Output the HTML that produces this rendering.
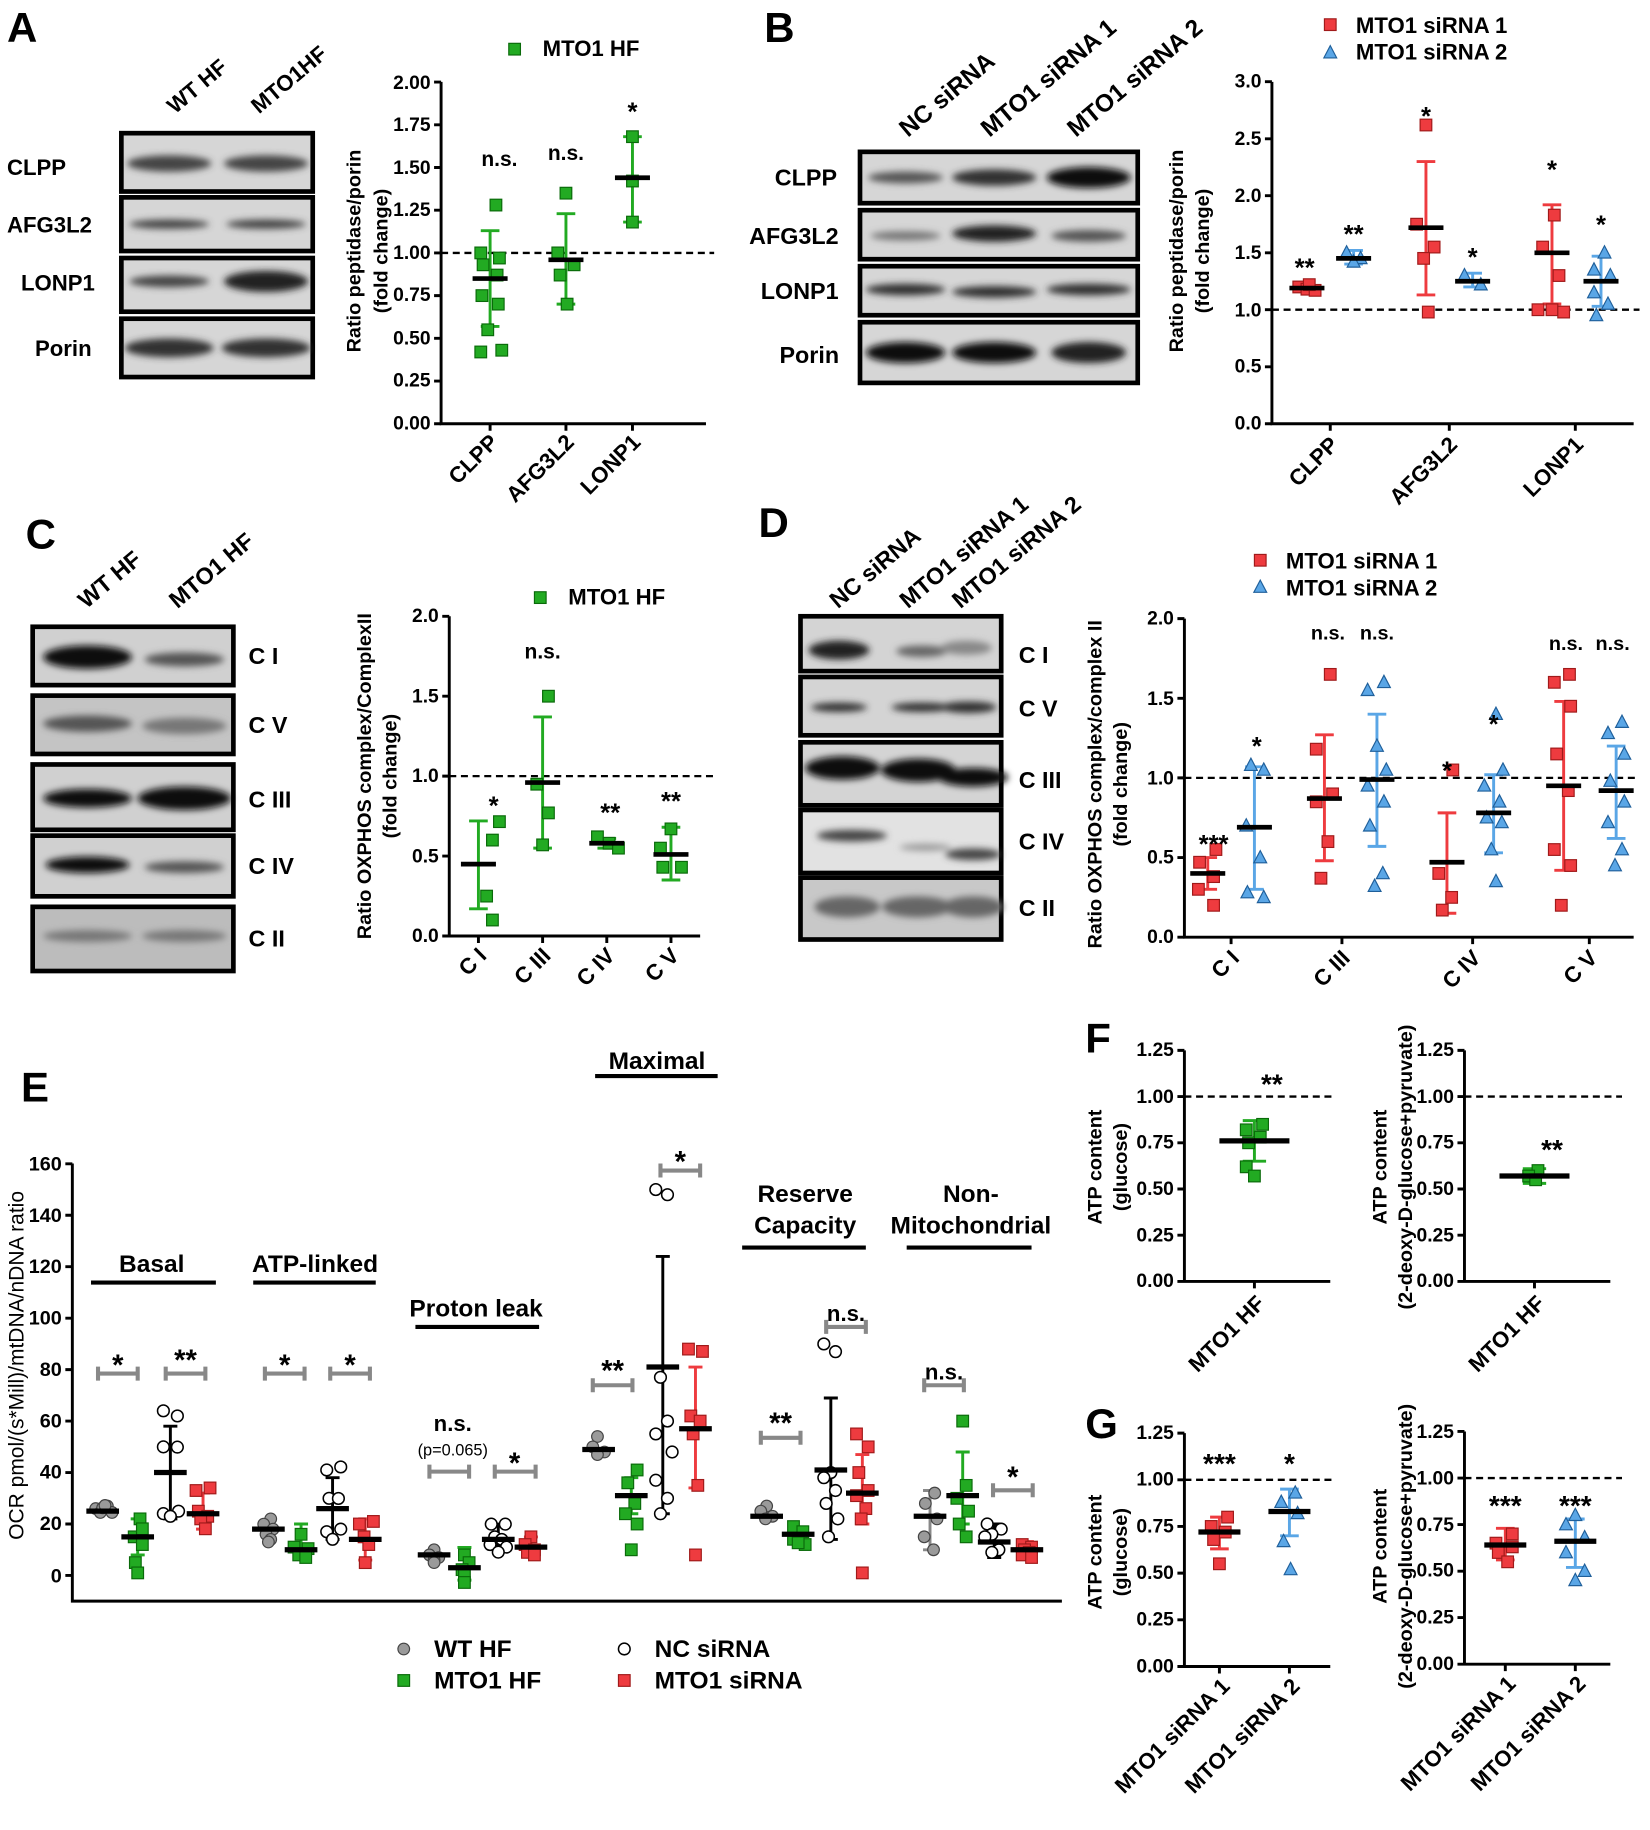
<!DOCTYPE html>
<html><head><meta charset="utf-8"><style>
html,body{margin:0;padding:0;background:#fff;}
svg{display:block;}
text{font-family:"Liberation Sans",Arial,sans-serif;font-weight:bold;fill:#000;}
</style></head><body>
<svg width="1650" height="1830" viewBox="0 0 1414 1568" xmlns="http://www.w3.org/2000/svg">
<defs>
<filter id="bl" x="-50%" y="-100%" width="200%" height="300%"><feGaussianBlur stdDeviation="3"/></filter>
<rect id="gs" x="-5" y="-5" width="10" height="10" fill="#22aa22" stroke="#0a6a0a" stroke-width="1"/>
<rect id="rs" x="-5" y="-5" width="10" height="10" fill="#ee3b3f" stroke="#a01a1a" stroke-width="1"/>
<path id="bt" d="M0,-6 L5.5,4.5 L-5.5,4.5Z" fill="#5aa6e6" stroke="#1f5f9a" stroke-width="1"/>
<circle id="gc" r="5" fill="#9a9a9a" stroke="#444" stroke-width="1"/>
<circle id="oc" r="5" fill="#fff" stroke="#000" stroke-width="1.3"/>
</defs>

<!-- ============ PANEL A ============ -->
<text x="6" y="36" font-size="36">A</text>
<text transform="translate(150,98) rotate(-40)" font-size="19">WT HF</text>
<text transform="translate(222,98) rotate(-40)" font-size="19">MTO1HF</text>
<g stroke="#000" stroke-width="4" fill="#d6d6d6">
<rect x="104" y="114" width="164" height="50"/><rect x="104" y="169" width="164" height="46"/>
<rect x="104" y="221" width="164" height="46"/><rect x="104" y="273" width="164" height="50"/>
</g>
<g filter="url(#bl)" fill="#444">
<ellipse cx="145" cy="140" rx="36" ry="7"/><ellipse cx="228" cy="140" rx="36" ry="7"/>
<ellipse cx="145" cy="192" rx="34" ry="4"/><ellipse cx="228" cy="192" rx="34" ry="4"/>
<ellipse cx="145" cy="241" rx="34" ry="5"/><ellipse cx="228" cy="241" rx="36" ry="9" fill="#222"/>
<ellipse cx="145" cy="298" rx="38" ry="8" fill="#333"/><ellipse cx="228" cy="298" rx="38" ry="8" fill="#333"/>
</g>
<g font-size="19"><text x="6" y="150">CLPP</text><text x="6" y="199">AFG3L2</text><text x="18" y="249">LONP1</text><text x="30" y="305">Porin</text></g>

<!-- chart A -->
<g stroke="#000" stroke-width="2.5" fill="none"><path d="M378,70 V363 H605"/>
<path d="M372,70.2H378M372,106.8H378M372,143.4H378M372,180H378M372,216.6H378M372,253.2H378M372,289.8H378M372,326.4H378M372,363H378"/>
<path d="M420,363v6M485,363v6M542,363v6"/></g>
<g font-size="16.5" text-anchor="end"><text x="369" y="76">2.00</text><text x="369" y="112">1.75</text><text x="369" y="149">1.50</text><text x="369" y="185">1.25</text><text x="369" y="222">1.00</text><text x="369" y="258">0.75</text><text x="369" y="295">0.50</text><text x="369" y="331">0.25</text><text x="369" y="368">0.00</text></g>
<text transform="translate(309,215) rotate(-90)" font-size="17" text-anchor="middle">Ratio peptidase/porin</text>
<text transform="translate(332,215) rotate(-90)" font-size="17" text-anchor="middle">(fold change)</text>
<g font-size="19" text-anchor="end"><text transform="translate(428,380) rotate(-45)">CLPP</text><text transform="translate(493,380) rotate(-45)">AFG3L2</text><text transform="translate(550,380) rotate(-45)">LONP1</text></g>
<path d="M378,216.6H612" stroke="#000" stroke-width="2" stroke-dasharray="6,4"/>
<use href="#gs" x="441" y="42"/><text x="465" y="48" font-size="19">MTO1 HF</text>
<g stroke="#22aa22" stroke-width="2.5" fill="none"><path d="M420,197.6V279.6M412,197.6h16M412,279.6h16"/><path d="M485,183V260.5M477,183h16M477,260.5h16"/><path d="M542,117V190.2M534,117h16M534,190.2h16"/></g>
<use href="#gs" x="425" y="175.6"/><use href="#gs" x="412" y="216.6"/><use href="#gs" x="428" y="221"/><use href="#gs" x="414" y="226.8"/><use href="#gs" x="426" y="235.6"/><use href="#gs" x="413" y="253.2"/><use href="#gs" x="427" y="260.5"/><use href="#gs" x="418" y="282.5"/><use href="#gs" x="412" y="301.5"/><use href="#gs" x="430" y="300"/>
<use href="#gs" x="485" y="165.4"/><use href="#gs" x="478" y="216.6"/><use href="#gs" x="492" y="226.8"/><use href="#gs" x="480" y="235.6"/><use href="#gs" x="486" y="260.5"/>
<use href="#gs" x="542" y="117"/><use href="#gs" x="542" y="155"/><use href="#gs" x="542" y="190.2"/>
<g stroke="#000" stroke-width="4"><path d="M405,238.6h30M470,222.5h30M527,152.2h30"/></g>
<g font-size="18" text-anchor="middle"><text x="428" y="142">n.s.</text><text x="485" y="137">n.s.</text><text x="542" y="103" font-size="22">*</text></g>

<!-- ============ PANEL B ============ -->
<text x="655" y="36" font-size="36">B</text>
<g font-size="21"><text transform="translate(778,118) rotate(-40)">NC siRNA</text><text transform="translate(848,118) rotate(-40)">MTO1 siRNA  1</text><text transform="translate(922,118) rotate(-40)">MTO1 siRNA  2</text></g>
<g stroke="#000" stroke-width="4" fill="#d6d6d6">
<rect x="737" y="130" width="238" height="44"/><rect x="737" y="180" width="238" height="42"/>
<rect x="737" y="228" width="238" height="42"/><rect x="737" y="276" width="238" height="52"/>
</g>
<g filter="url(#bl)">
<ellipse cx="776" cy="152" rx="32" ry="5" fill="#555"/><ellipse cx="852" cy="152" rx="36" ry="7" fill="#333"/><ellipse cx="933" cy="152" rx="36" ry="9" fill="#111"/>
<ellipse cx="776" cy="202" rx="30" ry="4" fill="#777"/><ellipse cx="852" cy="200" rx="36" ry="7" fill="#222"/><ellipse cx="933" cy="202" rx="32" ry="5" fill="#555"/>
<ellipse cx="776" cy="248" rx="34" ry="5" fill="#333"/><ellipse cx="852" cy="250" rx="36" ry="5" fill="#333"/><ellipse cx="933" cy="248" rx="36" ry="5" fill="#333"/>
<ellipse cx="776" cy="302" rx="34" ry="9" fill="#111"/><ellipse cx="852" cy="302" rx="36" ry="9" fill="#111"/><ellipse cx="933" cy="302" rx="32" ry="9" fill="#222"/>
</g>
<g font-size="20"><text x="664" y="159">CLPP</text><text x="642" y="209">AFG3L2</text><text x="652" y="256">LONP1</text><text x="668" y="311">Porin</text></g>

<g stroke="#000" stroke-width="2.5" fill="none"><path d="M1090,70 V363 H1400"/>
<path d="M1084,69.9H1090M1084,118.8H1090M1084,167.6H1090M1084,216.5H1090M1084,265.3H1090M1084,314.2H1090M1084,363H1090"/>
<path d="M1140,363v6M1242,363v6M1350,363v6"/></g>
<g font-size="16.5" text-anchor="end"><text x="1081" y="75">3.0</text><text x="1081" y="124">2.5</text><text x="1081" y="173">2.0</text><text x="1081" y="222">1.5</text><text x="1081" y="271">1.0</text><text x="1081" y="319">0.5</text><text x="1081" y="368">0.0</text></g>
<text transform="translate(1014,215) rotate(-90)" font-size="17" text-anchor="middle">Ratio peptidase/porin</text>
<text transform="translate(1036,215) rotate(-90)" font-size="17" text-anchor="middle">(fold change)</text>
<g font-size="19" text-anchor="end"><text transform="translate(1148,382) rotate(-45)">CLPP</text><text transform="translate(1250,382) rotate(-45)">AFG3L2</text><text transform="translate(1358,382) rotate(-45)">LONP1</text></g>
<path d="M1090,265.3H1405" stroke="#000" stroke-width="2" stroke-dasharray="6,4"/>
<use href="#rs" x="1140" y="21"/><text x="1162" y="28" font-size="19">MTO1 siRNA 1</text>
<use href="#bt" x="1140" y="45"/><text x="1162" y="51" font-size="19">MTO1 siRNA 2</text>
<g stroke="#ee3b3f" stroke-width="2.5" fill="none"><path d="M1222,138.3V252.6M1214,138.3h16M1214,252.6h16"/><path d="M1330,175.4V260.4M1322,175.4h16M1322,260.4h16"/></g>
<g stroke="#5aa6e6" stroke-width="2.5" fill="none"><path d="M1160,214.5V226.2M1152,214.5h16M1152,226.2h16"/><path d="M1262,234V245.8M1254,234h16M1254,245.8h16"/><path d="M1372,219.4V262.4M1364,219.4h16M1364,262.4h16"/></g>
<use href="#rs" x="1113" y="245.8"/><use href="#rs" x="1120" y="247.7"/><use href="#rs" x="1127" y="248.7"/><use href="#rs" x="1122" y="243.8"/>
<use href="#bt" x="1154" y="216.5"/><use href="#bt" x="1166" y="221.3"/><use href="#bt" x="1160" y="224.3"/>
<use href="#rs" x="1222" y="107"/><use href="#rs" x="1214" y="192"/><use href="#rs" x="1229" y="211.6"/><use href="#rs" x="1220" y="221.3"/><use href="#rs" x="1224" y="267.3"/>
<use href="#bt" x="1255" y="236"/><use href="#bt" x="1269" y="243.8"/>
<use href="#rs" x="1332" y="184.2"/><use href="#rs" x="1322" y="211.6"/><use href="#rs" x="1336" y="236"/><use href="#rs" x="1318" y="265.3"/><use href="#rs" x="1330" y="265.3"/><use href="#rs" x="1340" y="267.3"/>
<use href="#bt" x="1375" y="216.5"/><use href="#bt" x="1366" y="231.1"/><use href="#bt" x="1380" y="236"/><use href="#bt" x="1366" y="250.6"/><use href="#bt" x="1378" y="260.4"/><use href="#bt" x="1368" y="270.2"/>
<g stroke="#000" stroke-width="4"><path d="M1105,246.7h30M1145,221.3h30M1207,195h30M1247,240.9h30M1315,216.5h30M1357,240.9h30"/></g>
<g font-size="22" text-anchor="middle"><text x="1118" y="237">**</text><text x="1160" y="208">**</text><text x="1222" y="107">*</text><text x="1262" y="228">*</text><text x="1330" y="153">*</text><text x="1372" y="200">*</text></g>

<!-- ============ PANEL C ============ -->
<text x="22" y="470" font-size="36">C</text>
<g font-size="20"><text transform="translate(74,522) rotate(-40)">WT HF</text><text transform="translate(152,522) rotate(-40)">MTO1  HF</text></g>
<g stroke="#000" stroke-width="4" fill="#d0d0d0">
<rect x="28" y="537" width="172" height="50"/><rect x="28" y="596" width="172" height="50" fill="#c4c4c4"/>
<rect x="28" y="655" width="172" height="56"/><rect x="28" y="716" width="172" height="52"/><rect x="28" y="777" width="172" height="55" fill="#bcbcbc"/>
</g>
<g filter="url(#bl)">
<ellipse cx="75" cy="563" rx="38" ry="10" fill="#111"/><ellipse cx="158" cy="565" rx="34" ry="6" fill="#555"/>
<ellipse cx="75" cy="620" rx="38" ry="7" fill="#555"/><ellipse cx="158" cy="622" rx="36" ry="7" fill="#777"/>
<ellipse cx="75" cy="684" rx="38" ry="8" fill="#111"/><ellipse cx="158" cy="684" rx="40" ry="10" fill="#111"/>
<ellipse cx="75" cy="741" rx="36" ry="7" fill="#111"/><ellipse cx="158" cy="743" rx="34" ry="5" fill="#555"/>
<ellipse cx="75" cy="802" rx="38" ry="5" fill="#777"/><ellipse cx="158" cy="802" rx="36" ry="5" fill="#777"/>
</g>
<g font-size="20"><text x="213" y="569">C I</text><text x="213" y="628">C V</text><text x="213" y="692">C III</text><text x="213" y="749">C IV</text><text x="213" y="811">C II</text></g>

<g stroke="#000" stroke-width="2.5" fill="none"><path d="M385,528 V802 H600"/>
<path d="M379,528H385M379,596.5H385M379,665H385M379,733.5H385M379,802H385"/>
<path d="M410,802v6M465,802v6M520,802v6M575,802v6"/></g>
<g font-size="16.5" text-anchor="end"><text x="376" y="533">2.0</text><text x="376" y="602">1.5</text><text x="376" y="670">1.0</text><text x="376" y="739">0.5</text><text x="376" y="807">0.0</text></g>
<text transform="translate(318,665) rotate(-90)" font-size="17" text-anchor="middle">Ratio OXPHOS complex/ComplexII</text>
<text transform="translate(340,665) rotate(-90)" font-size="17" text-anchor="middle">(fold change)</text>
<g font-size="19" text-anchor="end"><text transform="translate(418,820) rotate(-45)">C I</text><text transform="translate(473,820) rotate(-45)">C III</text><text transform="translate(528,820) rotate(-45)">C IV</text><text transform="translate(583,820) rotate(-45)">C V</text></g>
<path d="M385,665H612" stroke="#000" stroke-width="2" stroke-dasharray="6,4"/>
<use href="#gs" x="463" y="512"/><text x="487" y="518" font-size="19">MTO1 HF</text>
<g stroke="#22aa22" stroke-width="2.5" fill="none"><path d="M410,703.4V778.7M402,703.4h16M402,778.7h16"/><path d="M465,614.3V726.7M457,614.3h16M457,726.7h16"/><path d="M520,718.4V726.7M512,718.4h16M512,726.7h16"/><path d="M575,708.8V754M567,708.8h16M567,754h16"/></g>
<use href="#gs" x="428" y="704"/><use href="#gs" x="422" y="719.8"/><use href="#gs" x="417" y="767.8"/><use href="#gs" x="422" y="788.3"/>
<use href="#gs" x="470" y="596.5"/><use href="#gs" x="460" y="671.9"/><use href="#gs" x="470" y="696.5"/><use href="#gs" x="465" y="723.9"/>
<use href="#gs" x="512" y="717"/><use href="#gs" x="522" y="722.5"/><use href="#gs" x="530" y="726.7"/>
<use href="#gs" x="575" y="710.2"/><use href="#gs" x="566" y="726.7"/><use href="#gs" x="568" y="743.1"/><use href="#gs" x="584" y="743.1"/>
<g stroke="#000" stroke-width="4"><path d="M395,740.4h30M450,670.5h30M505,722.5h30M560,732.1h30"/></g>
<g text-anchor="middle" font-size="22"><text x="423" y="698">*</text><text x="465" y="564" font-size="18">n.s.</text><text x="523" y="704">**</text><text x="575" y="694">**</text></g>

<!-- ============ PANEL D ============ -->
<text x="650" y="460" font-size="36">D</text>
<g font-size="20"><text transform="translate(718,522) rotate(-40)">NC siRNA</text><text transform="translate(778,522) rotate(-40)">MTO1 siRNA 1</text><text transform="translate(823,522) rotate(-40)">MTO1 siRNA 2</text></g>
<g stroke="#000" stroke-width="4" fill="#d4d4d4">
<rect x="686" y="528" width="172" height="47"/><rect x="686" y="580" width="172" height="50"/>
<rect x="686" y="636" width="172" height="54"/><rect x="686" y="694" width="172" height="54" fill="#e2e2e2"/><rect x="686" y="752" width="172" height="53" fill="#c8c8c8"/>
</g>
<g filter="url(#bl)">
<ellipse cx="719" cy="557" rx="26" ry="8" fill="#222"/><ellipse cx="790" cy="558" rx="22" ry="5" fill="#666"/><ellipse cx="828" cy="555" rx="22" ry="6" fill="#888"/>
<ellipse cx="719" cy="606" rx="24" ry="4" fill="#333"/><ellipse cx="790" cy="606" rx="26" ry="4" fill="#333"/><ellipse cx="830" cy="606" rx="24" ry="5" fill="#333"/>
<ellipse cx="722" cy="658" rx="32" ry="10" fill="#111"/><ellipse cx="787" cy="660" rx="32" ry="10" fill="#111"/><ellipse cx="834" cy="666" rx="30" ry="8" fill="#111"/>
<ellipse cx="730" cy="716" rx="30" ry="5" fill="#444"/><ellipse cx="793" cy="726" rx="22" ry="3" fill="#999"/><ellipse cx="834" cy="732" rx="24" ry="5" fill="#444"/>
<ellipse cx="726" cy="777" rx="28" ry="9" fill="#666"/><ellipse cx="786" cy="777" rx="30" ry="9" fill="#666"/><ellipse cx="834" cy="777" rx="26" ry="9" fill="#666"/>
</g>
<g font-size="20"><text x="873" y="568">C I</text><text x="873" y="614">C V</text><text x="873" y="675">C III</text><text x="873" y="728">C IV</text><text x="873" y="785">C II</text></g>

<g stroke="#000" stroke-width="2.5" fill="none"><path d="M1015,530 V803 H1400"/>
<path d="M1009,530H1015M1009,598.3H1015M1009,666.5H1015M1009,734.8H1015M1009,803H1015"/>
<path d="M1055,803v6M1150,803v6M1262,803v6M1362,803v6"/></g>
<g font-size="16.5" text-anchor="end"><text x="1006" y="535">2.0</text><text x="1006" y="604">1.5</text><text x="1006" y="672">1.0</text><text x="1006" y="740">0.5</text><text x="1006" y="808">0.0</text></g>
<text transform="translate(944,672) rotate(-90)" font-size="17" text-anchor="middle">Ratio OXPHOS complex/complex II</text>
<text transform="translate(966,672) rotate(-90)" font-size="17" text-anchor="middle">(fold change)</text>
<g font-size="19" text-anchor="end"><text transform="translate(1063,822) rotate(-45)">C I</text><text transform="translate(1158,822) rotate(-45)">C III</text><text transform="translate(1270,822) rotate(-45)">C IV</text><text transform="translate(1370,822) rotate(-45)">C V</text></g>
<path d="M1015,666.5H1405" stroke="#000" stroke-width="2" stroke-dasharray="6,4"/>
<use href="#rs" x="1080" y="480"/><text x="1102" y="487" font-size="19">MTO1 siRNA 1</text>
<use href="#bt" x="1080" y="503"/><text x="1102" y="510" font-size="19">MTO1 siRNA 2</text>
<g stroke="#ee3b3f" stroke-width="2.5" fill="none"><path d="M1035,734.8V762M1027,734.8h16M1027,762h16"/><path d="M1135,629.6V737.5M1127,629.6h16M1127,737.5h16"/><path d="M1240,696.5V782.5M1232,696.5h16M1232,782.5h16"/><path d="M1340,601V745.7M1332,601h16M1332,745.7h16"/></g>
<g stroke="#5aa6e6" stroke-width="2.5" fill="none"><path d="M1075,657V762M1067,657h16M1067,762h16"/><path d="M1180,611.9V725.2M1172,611.9h16M1172,725.2h16"/><path d="M1280,663.8V730.7M1272,663.8h16M1272,730.7h16"/><path d="M1385,639.2V718.4M1377,639.2h16M1377,718.4h16"/></g>
<use href="#rs" x="1042" y="727.9"/><use href="#rs" x="1028" y="738.8"/><use href="#rs" x="1040" y="751.1"/><use href="#rs" x="1027" y="762"/><use href="#rs" x="1040" y="775.7"/>
<use href="#bt" x="1072" y="655.6"/><use href="#bt" x="1083" y="659.7"/><use href="#bt" x="1068" y="707.5"/><use href="#bt" x="1080" y="734.8"/><use href="#bt" x="1069" y="764.8"/><use href="#bt" x="1083" y="768.9"/>
<use href="#rs" x="1140" y="577.8"/><use href="#rs" x="1128" y="641.9"/><use href="#rs" x="1142" y="680.2"/><use href="#rs" x="1128" y="687"/><use href="#rs" x="1138" y="721.1"/><use href="#rs" x="1132" y="752.5"/>
<use href="#bt" x="1186" y="584.6"/><use href="#bt" x="1172" y="591.4"/><use href="#bt" x="1180" y="639.2"/><use href="#bt" x="1188" y="659.7"/><use href="#bt" x="1172" y="673.3"/><use href="#bt" x="1186" y="687"/><use href="#bt" x="1174" y="707.5"/><use href="#bt" x="1185" y="748.4"/><use href="#bt" x="1178" y="759.3"/>
<use href="#rs" x="1245" y="659.7"/><use href="#rs" x="1233" y="748.4"/><use href="#rs" x="1244" y="768.9"/><use href="#rs" x="1236" y="779.8"/>
<use href="#bt" x="1282" y="611.9"/><use href="#bt" x="1288" y="659.7"/><use href="#bt" x="1272" y="673.3"/><use href="#bt" x="1285" y="687"/><use href="#bt" x="1274" y="700.6"/><use href="#bt" x="1287" y="704.7"/><use href="#bt" x="1278" y="727.9"/><use href="#bt" x="1282" y="755.2"/>
<use href="#rs" x="1345" y="577.8"/><use href="#rs" x="1332" y="584.6"/><use href="#rs" x="1346" y="605.1"/><use href="#rs" x="1334" y="646"/><use href="#rs" x="1344" y="677.4"/><use href="#rs" x="1332" y="727.9"/><use href="#rs" x="1346" y="741.6"/><use href="#rs" x="1338" y="775.7"/>
<use href="#bt" x="1390" y="618.7"/><use href="#bt" x="1378" y="628.3"/><use href="#bt" x="1392" y="646"/><use href="#bt" x="1380" y="669.2"/><use href="#bt" x="1392" y="687"/><use href="#bt" x="1378" y="704.7"/><use href="#bt" x="1390" y="727.9"/><use href="#bt" x="1384" y="741.6"/>
<g stroke="#000" stroke-width="4"><path d="M1020,748.4h30M1060,708.8h30M1120,684.2h30M1165,667.9h30M1225,738.8h30M1265,696.5h30M1325,673.3h30M1370,677.4h30"/></g>
<g text-anchor="middle" font-size="22"><text x="1040" y="731">***</text><text x="1077" y="647">*</text><text x="1240" y="668">*</text><text x="1280" y="628">*</text></g>
<g text-anchor="middle" font-size="17"><text x="1138" y="548">n.s.</text><text x="1180" y="548">n.s.</text><text x="1342" y="557">n.s.</text><text x="1382" y="557">n.s.</text></g>

<!-- ============ PANEL E ============ -->
<text x="18" y="944" font-size="36">E</text>
<g stroke="#000" stroke-width="2.5" fill="none"><path d="M62,997 V1372 H910"/>
<path d="M56,997.2H62M56,1041.3H62M56,1085.4H62M56,1129.5H62M56,1173.6H62M56,1217.7H62M56,1261.8H62M56,1305.9H62M56,1350H62"/></g>
<g font-size="17" text-anchor="end"><text x="53" y="1003">160</text><text x="53" y="1047">140</text><text x="53" y="1091">120</text><text x="53" y="1135">100</text><text x="53" y="1179">80</text><text x="53" y="1223">60</text><text x="53" y="1267">40</text><text x="53" y="1311">20</text><text x="53" y="1356">0</text></g>
<text transform="translate(20,1170) rotate(-90)" font-size="18" text-anchor="middle" style="font-weight:normal">OCR pmol/(s*Mill)/mtDNA/nDNA ratio</text>

<g font-size="21" text-anchor="middle">
<text x="130" y="1090">Basal</text><text x="270" y="1090">ATP-linked</text><text x="408" y="1128">Proton leak</text><text x="563" y="916">Maximal</text>
<text x="690" y="1030">Reserve</text><text x="690" y="1057">Capacity</text><text x="832" y="1030">Non-</text><text x="832" y="1057">Mitochondrial</text>
</g>
<g stroke="#000" stroke-width="3.5"><path d="M78,1099H185M217,1099H322M356,1137H462M510,922H615M636,1069H742M777,1069H884"/></g>
<!-- brackets -->
<g stroke="#888" stroke-width="3.5" fill="none">
<path d="M84,1177H118M84,1171v12M118,1171v12"/><path d="M142,1177H176M142,1171v12M176,1171v12"/>
<path d="M227,1177H261M227,1171v12M261,1171v12"/><path d="M283,1177H317M283,1171v12M317,1171v12"/>
<path d="M368,1261H402M368,1255v12M402,1255v12"/><path d="M424,1261H459M424,1255v12M459,1255v12"/>
<path d="M508,1187H542M508,1181v12M542,1181v12"/><path d="M566,1003H600M566,997v12M600,997v12"/>
<path d="M652,1232H686M652,1226v12M686,1226v12"/><path d="M708,1137H742M708,1131v12M742,1131v12"/>
<path d="M792,1187H826M792,1181v12M826,1181v12"/><path d="M851,1277H885M851,1271v12M885,1271v12"/>
</g>
<g font-size="25" text-anchor="middle">
<text x="101" y="1178">*</text><text x="159" y="1174">**</text><text x="244" y="1178">*</text><text x="300" y="1178">*</text>
<text x="441" y="1262">*</text><text x="525" y="1183">**</text><text x="583" y="1004">*</text><text x="669" y="1228">**</text><text x="868" y="1274">*</text>
</g>
<g font-size="19" text-anchor="middle"><text x="388" y="1226">n.s.</text><text x="725" y="1132">n.s.</text><text x="809" y="1182">n.s.</text></g>
<text x="388" y="1247" font-size="14" text-anchor="middle" style="font-weight:normal">(p=0.065)</text>

<!-- E error bars -->
<g stroke="#22aa22" stroke-width="2.5" fill="none">
<path d="M118,1301.5V1332.4M112,1301.5h12M112,1332.4h12"/><path d="M258,1305.9V1336M252,1305.9h12M252,1336h12"/><path d="M398,1326V1354M392,1326h12M392,1354h12"/>
<path d="M541,1266.2V1297.1M535,1266.2h12M535,1297.1h12"/><path d="M684,1310V1322M678,1310h12M678,1322h12"/><path d="M825,1244.2V1305.9M819,1244.2h12M819,1305.9h12"/>
</g>
<g stroke="#ee3b3f" stroke-width="2.5" fill="none">
<path d="M174,1279.4V1310.3M168,1279.4h12M168,1310.3h12"/><path d="M313,1301.5V1336.8M307,1301.5h12M307,1336.8h12"/><path d="M455,1317V1330M449,1317h12M449,1330h12"/>
<path d="M596,1171.4V1275M590,1171.4h12M590,1275h12"/><path d="M739,1246.4V1305.9M733,1246.4h12M733,1305.9h12"/><path d="M880,1321V1330M874,1321h12M874,1330h12"/>
</g>
<g stroke="#000" stroke-width="2.5" fill="none">
<path d="M146,1222.1V1301.5M140,1222.1h12M140,1301.5h12"/><path d="M285,1266.2V1319.1M279,1266.2h12M279,1319.1h12"/><path d="M427,1306V1324M421,1306h12M421,1324h12"/>
<path d="M568,1076.6V1297.1M562,1076.6h12M562,1297.1h12"/><path d="M712,1197.9V1319.1M706,1197.9h12M706,1319.1h12"/><path d="M852,1305.9V1334.6M846,1305.9h12M846,1334.6h12"/>
</g>
<g stroke="#888" stroke-width="2.5" fill="none"><path d="M797,1277.2V1328M791,1277.2h12M791,1328h12"/></g>
<!-- E points -->
<use href="#gc" x="82" y="1292.7"/><use href="#gc" x="92" y="1290.5"/><use href="#gc" x="86" y="1296"/><use href="#gc" x="96" y="1296"/><use href="#gc" x="88" y="1292"/><use href="#gc" x="90" y="1290"/>
<use href="#gs" x="120" y="1301.5"/><use href="#gs" x="115" y="1316.9"/><use href="#gs" x="122" y="1323.5"/><use href="#gs" x="116" y="1339"/><use href="#gs" x="118" y="1347.8"/><use href="#gs" x="122" y="1310"/>
<use href="#oc" x="140" y="1208.9"/><use href="#oc" x="152" y="1213.3"/><use href="#oc" x="140" y="1239.8"/><use href="#oc" x="152" y="1240"/><use href="#oc" x="140" y="1297"/><use href="#oc" x="153" y="1294.9"/><use href="#oc" x="146" y="1299.3"/>
<use href="#rs" x="168" y="1277.2"/><use href="#rs" x="180" y="1275"/><use href="#rs" x="170" y="1294.9"/><use href="#rs" x="178" y="1299.3"/><use href="#rs" x="172" y="1301.5"/><use href="#rs" x="176" y="1310"/>
<use href="#gc" x="232" y="1301.5"/><use href="#gc" x="226" y="1306"/><use href="#gc" x="234" y="1310.3"/><use href="#gc" x="228" y="1314.7"/><use href="#gc" x="232" y="1319.1"/><use href="#gc" x="230" y="1321.3"/>
<use href="#gs" x="258" y="1314.7"/><use href="#gs" x="252" y="1325.7"/><use href="#gs" x="264" y="1327"/><use href="#gs" x="256" y="1332.4"/><use href="#gs" x="262" y="1334.6"/>
<use href="#oc" x="280" y="1259.6"/><use href="#oc" x="292" y="1257"/><use href="#oc" x="282" y="1283.9"/><use href="#oc" x="290" y="1284"/><use href="#oc" x="280" y="1312.5"/><use href="#oc" x="292" y="1310.3"/><use href="#oc" x="285" y="1319"/>
<use href="#rs" x="308" y="1305.9"/><use href="#rs" x="320" y="1303.7"/><use href="#rs" x="312" y="1316.9"/><use href="#rs" x="316" y="1323.5"/><use href="#rs" x="313" y="1339"/>
<use href="#gc" x="372" y="1328"/><use href="#gc" x="368" y="1332.4"/><use href="#gc" x="376" y="1334.6"/><use href="#gc" x="372" y="1337"/><use href="#gc" x="372" y="1339"/>
<use href="#gs" x="398" y="1332.4"/><use href="#gs" x="402" y="1339"/><use href="#gs" x="396" y="1345"/><use href="#gs" x="398" y="1350"/><use href="#gs" x="398" y="1356"/>
<use href="#oc" x="421" y="1306"/><use href="#oc" x="433" y="1306"/><use href="#oc" x="424" y="1316.9"/><use href="#oc" x="430" y="1319.1"/><use href="#oc" x="420" y="1323.5"/><use href="#oc" x="434" y="1325.7"/><use href="#oc" x="427" y="1330"/>
<use href="#rs" x="455" y="1316.9"/><use href="#rs" x="450" y="1323.5"/><use href="#rs" x="458" y="1328"/><use href="#rs" x="452" y="1330.2"/><use href="#rs" x="458" y="1332.4"/>
<use href="#gc" x="512" y="1230.9"/><use href="#gc" x="508" y="1239.8"/><use href="#gc" x="518" y="1244.2"/><use href="#gc" x="512" y="1246.4"/>
<use href="#gs" x="546" y="1259.6"/><use href="#gs" x="538" y="1270.6"/><use href="#gs" x="544" y="1288.3"/><use href="#gs" x="536" y="1297.1"/><use href="#gs" x="546" y="1305.9"/><use href="#gs" x="541" y="1328"/>
<use href="#oc" x="562" y="1019.3"/><use href="#oc" x="572" y="1023.7"/><use href="#oc" x="566" y="1180.2"/><use href="#oc" x="572" y="1217.7"/><use href="#oc" x="562" y="1228.7"/><use href="#oc" x="576" y="1244.2"/><use href="#oc" x="562" y="1268.4"/><use href="#oc" x="572" y="1283.9"/><use href="#oc" x="566" y="1297.1"/>
<use href="#rs" x="590" y="1156"/><use href="#rs" x="602" y="1158"/><use href="#rs" x="592" y="1213.3"/><use href="#rs" x="600" y="1217.7"/><use href="#rs" x="594" y="1228.7"/><use href="#rs" x="598" y="1272.8"/><use href="#rs" x="596" y="1332.4"/>
<use href="#gc" x="657" y="1290.5"/><use href="#gc" x="652" y="1294.9"/><use href="#gc" x="662" y="1299.3"/><use href="#gc" x="656" y="1301.5"/>
<use href="#gs" x="680" y="1308.1"/><use href="#gs" x="688" y="1312.5"/><use href="#gs" x="680" y="1319"/><use href="#gs" x="690" y="1323.5"/><use href="#gs" x="684" y="1322"/>
<use href="#oc" x="706" y="1151.6"/><use href="#oc" x="716" y="1158.2"/><use href="#oc" x="712" y="1261.8"/><use href="#oc" x="706" y="1266.2"/><use href="#oc" x="716" y="1277.2"/><use href="#oc" x="708" y="1288.3"/><use href="#oc" x="718" y="1301.5"/><use href="#oc" x="710" y="1316.9"/>
<use href="#rs" x="734" y="1228.7"/><use href="#rs" x="744" y="1239.8"/><use href="#rs" x="736" y="1261.8"/><use href="#rs" x="744" y="1277.2"/><use href="#rs" x="734" y="1281.6"/><use href="#rs" x="742" y="1292.7"/><use href="#rs" x="738" y="1301.5"/><use href="#rs" x="739" y="1347.8"/>
<use href="#gc" x="801" y="1279.4"/><use href="#gc" x="793" y="1288.3"/><use href="#gc" x="803" y="1301.5"/><use href="#gc" x="792" y="1316.9"/><use href="#gc" x="800" y="1328"/>
<use href="#gs" x="825" y="1217.7"/><use href="#gs" x="828" y="1272.8"/><use href="#gs" x="820" y="1283.9"/><use href="#gs" x="830" y="1294.9"/><use href="#gs" x="822" y="1305.9"/><use href="#gs" x="828" y="1316.9"/>
<use href="#oc" x="846" y="1305.9"/><use href="#oc" x="858" y="1310.3"/><use href="#oc" x="850" y="1314.7"/><use href="#oc" x="844" y="1316.9"/><use href="#oc" x="856" y="1328"/><use href="#oc" x="850" y="1330.2"/>
<use href="#rs" x="876" y="1323.5"/><use href="#rs" x="884" y="1325.7"/><use href="#rs" x="878" y="1328"/><use href="#rs" x="882" y="1330.2"/><use href="#rs" x="876" y="1332.4"/><use href="#rs" x="884" y="1334.6"/>
<g stroke="#000" stroke-width="4.5"><path d="M74,1294.9h28M104,1316.9h28M132,1261.8h28M160,1297.1h28M216,1310.3h28M244,1328h28M271,1292.7h28M299,1319.1h28M358,1332.4h28M384,1343.4h28M413,1319.1h28M441,1325.7h28M499,1242h28M527,1281.6h28M554,1171.4h28M582,1224.3h28M643,1299.3h28M670,1314.7h28M698,1259.6h28M725,1279.4h28M783,1299.3h28M811,1281.6h28M838,1321.3h28M866,1328h28"/></g>
<!-- legend E -->
<use href="#gc" x="346" y="1413"/><text x="372" y="1420" font-size="21">WT HF</text>
<use href="#oc" x="535" y="1413"/><text x="561" y="1420" font-size="21">NC siRNA</text>
<use href="#gs" x="346" y="1440"/><text x="372" y="1447" font-size="21">MTO1 HF</text>
<use href="#rs" x="535" y="1440"/><text x="561" y="1447" font-size="21">MTO1 siRNA</text>

<!-- ============ PANEL F ============ -->
<text x="930" y="902" font-size="36">F</text>
<g stroke="#000" stroke-width="2.5" fill="none"><path d="M1015,900V1098H1140M1009,900H1015M1009,939.6H1015M1009,979.2H1015M1009,1018.8H1015M1009,1058.4H1015M1009,1098H1015M1075,1098v6"/>
<path d="M1255,900V1098H1380M1249,900H1255M1249,939.6H1255M1249,979.2H1255M1249,1018.8H1255M1249,1058.4H1255M1249,1098H1255M1315,1098v6"/></g>
<g font-size="16.5" text-anchor="end"><text x="1006" y="905">1.25</text><text x="1006" y="945">1.00</text><text x="1006" y="984">0.75</text><text x="1006" y="1024">0.50</text><text x="1006" y="1064">0.25</text><text x="1006" y="1103">0.00</text>
<text x="1246" y="905">1.25</text><text x="1246" y="945">1.00</text><text x="1246" y="984">0.75</text><text x="1246" y="1024">0.50</text><text x="1246" y="1064">0.25</text><text x="1246" y="1103">0.00</text></g>
<g stroke="#000" stroke-width="2" stroke-dasharray="6,4"><path d="M1015,939.6H1145M1255,939.6H1390"/></g>
<g font-size="17" text-anchor="middle"><text transform="translate(944,1000) rotate(-90)">ATP content</text><text transform="translate(966,1000) rotate(-90)">(glucose)</text>
<text transform="translate(1188,1000) rotate(-90)">ATP content</text><text transform="translate(1210,1000) rotate(-90)">(2-deoxy-D-glucose+pyruvate)</text></g>
<g font-size="19" text-anchor="end"><text transform="translate(1085,1118) rotate(-45)">MTO1 HF</text><text transform="translate(1325,1118) rotate(-45)">MTO1 HF</text></g>
<g stroke="#22aa22" stroke-width="2.5" fill="none"><path d="M1075,960.2V995M1065,960.2h20M1065,995h20M1315,1001.4V1014M1305,1001.4h20M1305,1014h20"/></g>
<use href="#gs" x="1082" y="963.4"/><use href="#gs" x="1068" y="968.1"/><use href="#gs" x="1080" y="974.4"/><use href="#gs" x="1070" y="979.2"/><use href="#gs" x="1068" y="999.8"/><use href="#gs" x="1075" y="1007.7"/>
<use href="#gs" x="1318" y="1003"/><use href="#gs" x="1310" y="1007.7"/><use href="#gs" x="1316" y="1010.9"/>
<g stroke="#000" stroke-width="4.5"><path d="M1045,977.6h60M1285,1007.7h60"/></g>
<g font-size="24" text-anchor="middle"><text x="1090" y="937">**</text><text x="1330" y="993">**</text></g>

<!-- ============ PANEL G ============ -->
<text x="930" y="1232" font-size="36">G</text>
<g stroke="#000" stroke-width="2.5" fill="none"><path d="M1015,1228V1428H1140M1009,1228H1015M1009,1268H1015M1009,1308H1015M1009,1348H1015M1009,1388H1015M1009,1428H1015M1045,1428v6M1105,1428v6"/>
<path d="M1255,1226.6V1426H1380M1249,1226.6H1255M1249,1266.5H1255M1249,1306.4H1255M1249,1346.3H1255M1249,1386.1H1255M1249,1426H1255M1290,1426v6M1350,1426v6"/></g>
<g font-size="16.5" text-anchor="end"><text x="1006" y="1233">1.25</text><text x="1006" y="1273">1.00</text><text x="1006" y="1313">0.75</text><text x="1006" y="1353">0.50</text><text x="1006" y="1393">0.25</text><text x="1006" y="1433">0.00</text>
<text x="1246" y="1232">1.25</text><text x="1246" y="1272">1.00</text><text x="1246" y="1312">0.75</text><text x="1246" y="1351">0.50</text><text x="1246" y="1391">0.25</text><text x="1246" y="1431">0.00</text></g>
<g stroke="#000" stroke-width="2" stroke-dasharray="6,4"><path d="M1015,1268H1145M1255,1266.5H1390"/></g>
<g font-size="17" text-anchor="middle"><text transform="translate(944,1330) rotate(-90)">ATP content</text><text transform="translate(966,1330) rotate(-90)">(glucose)</text>
<text transform="translate(1188,1325) rotate(-90)">ATP content</text><text transform="translate(1210,1325) rotate(-90)">(2-deoxy-D-glucose+pyruvate)</text></g>
<g font-size="19" text-anchor="end"><text transform="translate(1055,1446) rotate(-45)">MTO1 siRNA 1</text><text transform="translate(1115,1446) rotate(-45)">MTO1 siRNA 2</text><text transform="translate(1300,1444) rotate(-45)">MTO1 siRNA 1</text><text transform="translate(1360,1444) rotate(-45)">MTO1 siRNA 2</text></g>
<g stroke="#ee3b3f" stroke-width="2.5" fill="none"><path d="M1045,1300V1327.2M1037,1300h16M1037,1327.2h16M1290,1309.6V1336.7M1282,1309.6h16M1282,1336.7h16"/></g>
<g stroke="#5aa6e6" stroke-width="2.5" fill="none"><path d="M1105,1276V1316M1097,1276h16M1097,1316h16M1350,1301.6V1343.1M1342,1301.6h16M1342,1343.1h16"/></g>
<use href="#rs" x="1052" y="1300"/><use href="#rs" x="1038" y="1308"/><use href="#rs" x="1050" y="1312.8"/><use href="#rs" x="1040" y="1319.2"/><use href="#rs" x="1045" y="1340"/>
<use href="#bt" x="1110" y="1279.2"/><use href="#bt" x="1098" y="1287.2"/><use href="#bt" x="1112" y="1296.8"/><use href="#bt" x="1100" y="1320.8"/><use href="#bt" x="1106" y="1344.8"/>
<use href="#rs" x="1296" y="1314.4"/><use href="#rs" x="1282" y="1322.3"/><use href="#rs" x="1296" y="1325.5"/><use href="#rs" x="1284" y="1330.3"/><use href="#rs" x="1292" y="1338.3"/>
<use href="#bt" x="1350" y="1298.4"/><use href="#bt" x="1342" y="1306.4"/><use href="#bt" x="1358" y="1317.5"/><use href="#bt" x="1342" y="1330.3"/><use href="#bt" x="1358" y="1346.3"/><use href="#bt" x="1350" y="1354.2"/>
<g stroke="#000" stroke-width="4.5"><path d="M1027,1312.8h36M1087,1295.2h36M1272,1323.9h36M1332,1320.7h36"/></g>
<g font-size="24" text-anchor="middle"><text x="1045" y="1262">***</text><text x="1105" y="1262">*</text><text x="1290" y="1298">***</text><text x="1350" y="1298">***</text></g>
</svg>
</body></html>
